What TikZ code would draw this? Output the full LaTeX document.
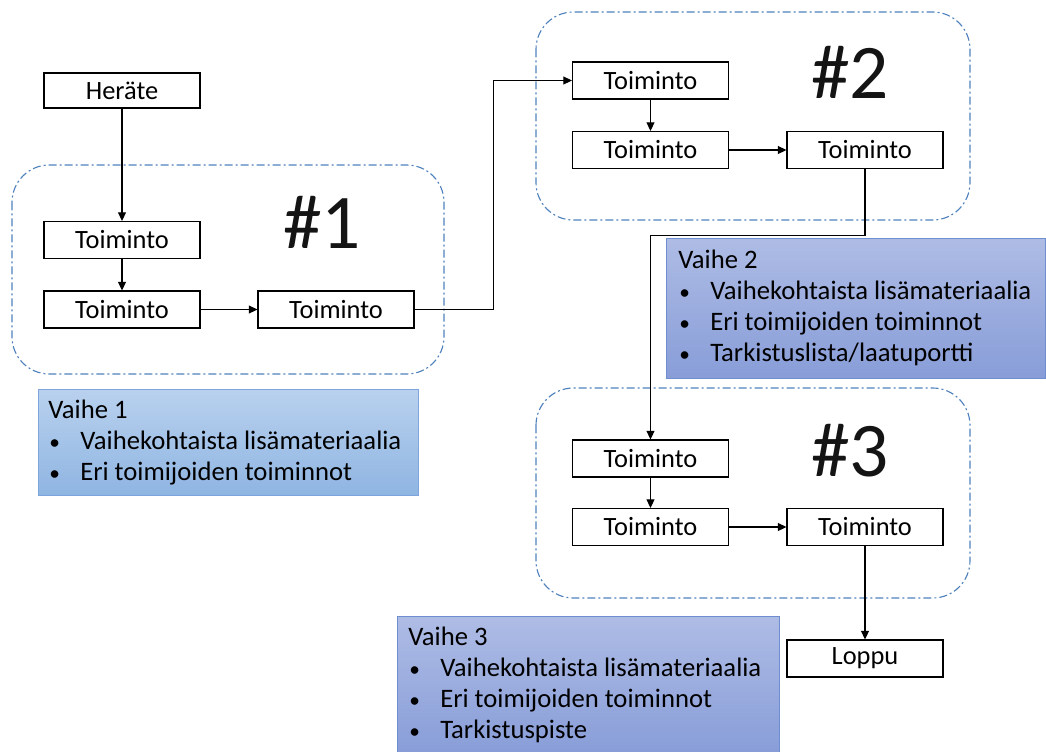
\documentclass[tikz,border=0pt]{standalone}
\usepackage{fontspec}
\setmainfont{Carlito}
\usetikzlibrary{arrows.meta}
\definecolor{grpblue}{HTML}{4F81BD}
\definecolor{infoAtop}{HTML}{B9D1EE}
\definecolor{infoAbot}{HTML}{8FB5E2}
\definecolor{infoAline}{HTML}{7EA6DC}
\definecolor{infoBtop}{HTML}{AEBCE5}
\definecolor{infoBbot}{HTML}{889DD8}
\definecolor{infoBline}{HTML}{6F8ED0}
\newcommand{\blt}{\scalebox{0.8}{•}}
\begin{document}
\begin{tikzpicture}[x=0.75pt,y=-0.75pt,
  stepbox/.style={draw=black,line width=0.8pt,fill=white,minimum width=117pt,
    minimum height=27.75pt,inner sep=0pt,font=\fontsize{19.8}{22}\selectfont},
  flow/.style={draw=black,line width=0.8pt,-{Triangle[length=6.5pt,width=6pt]}},
  phase/.style={draw=grpblue,line width=0.85pt,rounded corners=28pt,
    dash pattern=on 6pt off 2.25pt on 1.5pt off 2.25pt},
  bignum/.style={font=\fontsize{58}{60}\selectfont,anchor=base,inner sep=0pt,text=black!92},
  infoA/.style={draw=infoAline,line width=0.75pt,top color=infoAtop,bottom color=infoAbot},
  infoB/.style={draw=infoBline,line width=0.75pt,top color=infoBtop,bottom color=infoBbot},
  itxt/.style={anchor=base west,inner sep=0pt,font=\fontsize{20}{23}\selectfont}
]
\useasboundingbox (0,0) rectangle (1046,751);

% phase frames
\draw[phase] (12,165) rectangle (444,374);
\draw[phase] (536,12) rectangle (970,220);
\draw[phase] (536,388) rectangle (970,598);

% phase numbers
\node[bignum] (n1) at (322,248) {\#1};
\node[bignum] (n2) at (850,98) {\#2};
\node[bignum] (n3) at (850,476) {\#3};

% info panels
\draw[infoA] (38,389) rectangle (418,495);
\draw[infoB] (666,238) rectangle (1045,378);
\draw[infoB] (397,616) rectangle (779,754);

\node[itxt] (a0) at (48,418) {Vaihe 1};
\node[itxt] (a1b) at (49,449) {\blt};
\node[itxt] (a1) at (80,449) {Vaihekohtaista lisämateriaalia};
\node[itxt] (a2b) at (49,480) {\blt};
\node[itxt] (a2) at (80,480) {Eri toimijoiden toiminnot};

\node[itxt] (b0) at (678,268) {Vaihe 2};
\node[itxt] (b1b) at (679,299) {\blt};
\node[itxt] (b1) at (710,299) {Vaihekohtaista lisämateriaalia};
\node[itxt] (b2b) at (679,330) {\blt};
\node[itxt] (b2) at (710,330) {Eri toimijoiden toiminnot};
\node[itxt] (b3b) at (679,361) {\blt};
\node[itxt] (b3) at (710,361) {Tarkistuslista/laatuportti};

\node[itxt] (c0) at (408,645) {Vaihe 3};
\node[itxt] (c1b) at (409,676) {\blt};
\node[itxt] (c1) at (440,676) {Vaihekohtaista lisämateriaalia};
\node[itxt] (c2b) at (409,707) {\blt};
\node[itxt] (c2) at (440,707) {Eri toimijoiden toiminnot};
\node[itxt] (c3b) at (409,738) {\blt};
\node[itxt] (c3) at (440,738) {Tarkistuspiste};

% steps
\node[stepbox,minimum height=26.25pt] (her) at (122,90.5) {Heräte};
\node[stepbox] (t1a) at (122,240) {Toiminto};
\node[stepbox] (t1b) at (122,309.5) {Toiminto};
\node[stepbox] (t1c) at (336,309.5) {Toiminto};
\node[stepbox] (t2a) at (650.5,80.5) {Toiminto};
\node[stepbox] (t2b) at (650.5,150) {Toiminto};
\node[stepbox] (t2c) at (865,150) {Toiminto};
\node[stepbox] (t3a) at (650.5,458.5) {Toiminto};
\node[stepbox] (t3b) at (650.5,527) {Toiminto};
\node[stepbox] (t3c) at (865,527) {Toiminto};
\node[stepbox] (end) at (865,658.5) {Loppu};

% connectors
\draw[flow] (her) -- (t1a);
\draw[flow] (t1a) -- (t1b);
\draw[flow] (t1b) -- (t1c);
\draw[flow] (t1c.east) -- ++(79,0) |- (t2a.west);
\draw[flow] (t2a) -- (t2b);
\draw[flow] (t2b) -- (t2c);
\draw[flow] (t2c.south) -- ++(0,66) -| (t3a.north);
\draw[flow] (t3a) -- (t3b);
\draw[flow] (t3b) -- (t3c);
\draw[flow] (t3c) -- (end);
\end{tikzpicture}
\end{document}
